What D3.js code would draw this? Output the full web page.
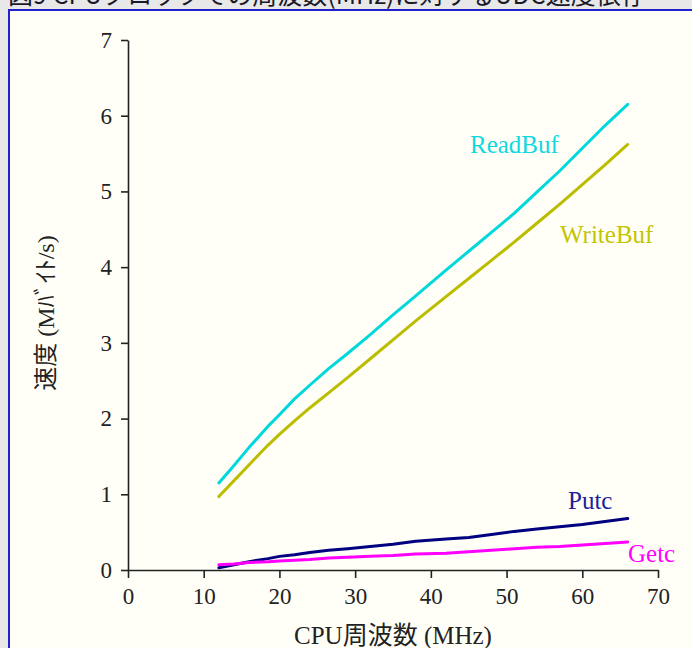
<!DOCTYPE html>
<html>
<head>
<meta charset="utf-8">
<script src="https://cdn.jsdelivr.net/npm/d3@7"></script>
<style>
  html, body { margin: 0; padding: 0; background: #e8e8e8; overflow: hidden; }
  svg { display: block; }
</style>
</head>
<body>
<svg id="chart"></svg>
<script>
// data (MHz -> Mバイト/s)
const freqs    = [12, 14, 16, 18.5, 20, 22, 24, 26.5, 29, 32, 35, 38, 42, 45, 48, 51, 54, 57, 60, 63, 66];
const readBuf  = [1.15, 1.38, 1.62, 1.90, 2.05, 2.26, 2.44, 2.66, 2.86, 3.11, 3.37, 3.62, 3.96, 4.21, 4.46, 4.71, 4.99, 5.27, 5.57, 5.87, 6.15];
const writeBuf = [0.97, 1.18, 1.39, 1.65, 1.79, 1.97, 2.14, 2.34, 2.54, 2.79, 3.04, 3.29, 3.61, 3.85, 4.09, 4.33, 4.58, 4.83, 5.09, 5.35, 5.62];
const putc     = [0.03, 0.07, 0.11, 0.15, 0.18, 0.20, 0.23, 0.26, 0.28, 0.31, 0.34, 0.38, 0.41, 0.43, 0.47, 0.51, 0.54, 0.57, 0.60, 0.64, 0.68];
const getc     = [0.07, 0.08, 0.10, 0.11, 0.12, 0.13, 0.14, 0.16, 0.17, 0.18, 0.19, 0.21, 0.22, 0.24, 0.26, 0.28, 0.30, 0.31, 0.33, 0.35, 0.37];
const seriesNames = ["ReadBuf", "WriteBuf", "Putc", "Getc"];
const xTicks = [0, 10, 20, 30, 40, 50, 60, 70];
const yTicks = [0, 1, 2, 3, 4, 5, 6, 7];

const W = 692, H = 648;
const margin = {top: 40, right: 34, bottom: 78, left: 128};
const width  = W - margin.left - margin.right;
const height = H - margin.top - margin.bottom;
const serif  = "'Liberation Serif', 'DejaVu Serif', 'Noto Sans CJK JP', serif";

const svg = d3.select("#chart")
  .attr("width", W)
  .attr("height", H);

// caption (cut off at the top, as in the page) and the panel
svg.append("text")
  .attr("x", 8)
  .attr("y", 4)
  .attr("fill", "#1a1a2a")
  .style("font-size", "25px")
  .style("font-family", "'Noto Sans CJK JP', sans-serif")
  .text("図9 CPUクロックでの周波数(MHz)に対するUDC速度依存");

svg.append("rect")
  .attr("x", 9)
  .attr("y", 10)
  .attr("width", W + 20)
  .attr("height", H + 20)
  .attr("fill", "#fffff7")
  .attr("stroke", "#2020cc")
  .attr("stroke-width", 2);

const g = svg.append("g")
  .attr("transform", "translate(" + margin.left + "," + margin.top + ")");

const x = d3.scaleLinear().domain([0, 70]).range([0, width]);
const y = d3.scaleLinear().domain([0, 7]).range([height, 0]);

const series = [
  {name: seriesNames[0], values: readBuf,  color: "#00d8dc", text: "#10d8e0", lx: 470, ly: 153},
  {name: seriesNames[1], values: writeBuf, color: "#bcbc00", text: "#c4c400", lx: 560, ly: 243},
  {name: seriesNames[2], values: putc,     color: "#000080", text: "#20209a", lx: 568, ly: 509},
  {name: seriesNames[3], values: getc,     color: "#ff00ff", text: "#ff00ff", lx: 628, ly: 562}
];

const line = d3.line()
  .x(function(d) { return x(d[0]); })
  .y(function(d) { return y(d[1]); });

series.forEach(function(s) {
  g.append("path")
    .datum(freqs.map(function(f, i) { return [f, s.values[i]]; }))
    .attr("fill", "none")
    .attr("stroke", s.color)
    .attr("stroke-width", 3)
    .attr("stroke-linejoin", "round")
    .attr("stroke-linecap", "round")
    .attr("d", line);

  svg.append("text")
    .attr("x", s.lx)
    .attr("y", s.ly)
    .attr("fill", s.text)
    .style("font-size", "25px")
    .style("font-family", serif)
    .text(s.name);
});

// axes
const xAxis = d3.axisBottom(x).tickValues(xTicks).tickFormat(d3.format("d"))
  .tickSize(8).tickSizeOuter(0).tickPadding(10);
const yAxis = d3.axisLeft(y).tickValues(yTicks).tickFormat(d3.format("d"))
  .tickSize(7).tickSizeOuter(0).tickPadding(9);

const gx = g.append("g")
  .attr("transform", "translate(0," + height + ")")
  .call(xAxis);
const gy = g.append("g").call(yAxis);

[gx, gy].forEach(function(a) {
  a.selectAll("path, line").attr("stroke", "#222").attr("stroke-width", 1.6);
  a.selectAll("text")
    .attr("fill", "#222")
    .style("font-size", "23px")
    .style("font-family", serif);
});

// axis titles
svg.append("text")
  .attr("x", margin.left + width / 2)
  .attr("y", 644)
  .attr("text-anchor", "middle")
  .attr("fill", "#222")
  .style("font-size", "25px")
  .style("font-family", serif)
  .text("CPU周波数 (MHz)");

svg.append("text")
  .attr("transform", "translate(54," + (margin.top + height / 2 + 8) + ") rotate(-90)")
  .attr("text-anchor", "middle")
  .attr("fill", "#222")
  .style("font-size", "24px")
  .style("font-family", serif)
  .text("速度 (Mﾊﾞｲﾄ/s)");
</script>
</body>
</html>
